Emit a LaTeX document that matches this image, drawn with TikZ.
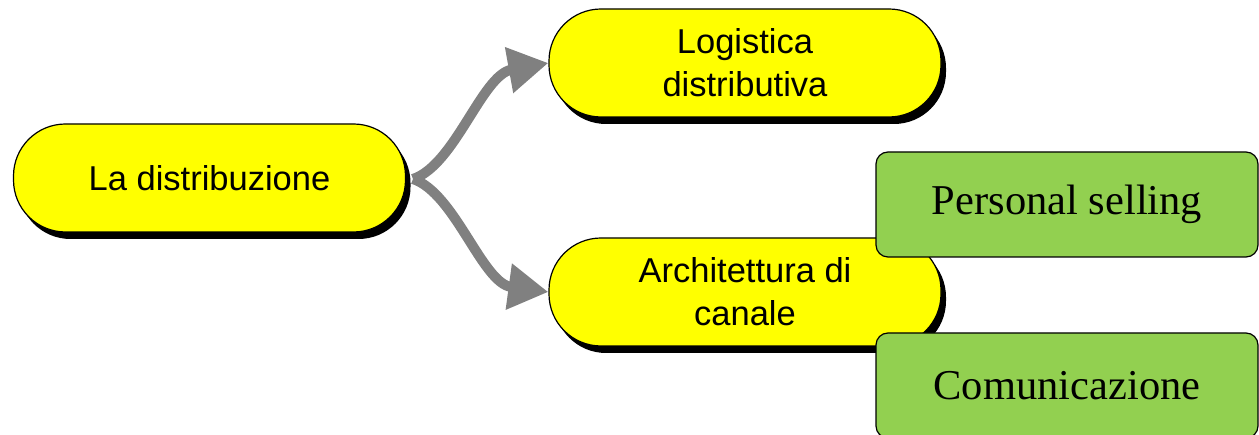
\documentclass[tikz,border=0pt]{standalone}
\usepackage{fontspec}
\setmainfont{Liberation Serif}
\newfontfamily\arialfont{Liberation Sans}
\usetikzlibrary{shadows,arrows.meta}
\definecolor{nodeyellow}{RGB}{255,255,0}
\definecolor{nodegreen}{RGB}{146,208,80}
\definecolor{arrowgray}{RGB}{128,128,128}
\tikzset{
  pill/.style={draw=black, line width=1.2pt, fill=nodeyellow, rounded corners=52pt,
    minimum height=108pt, minimum width=392pt, inner sep=0pt, align=center,
    font=\arialfont\fontsize{34.5}{43}\selectfont,
    drop shadow={shadow xshift=5pt, shadow yshift=-7pt, fill=black, opacity=1}},
  greenbox/.style={draw=black, line width=1.2pt, fill=nodegreen, rounded corners=12pt,
    minimum height=105pt, minimum width=382pt, inner sep=0pt,
    font=\fontsize{42.5}{50}\selectfont},
  conn/.style={draw=arrowgray, line width=10pt, -{Triangle[length=40pt,width=44pt]}}
}
\begin{document}
\begin{tikzpicture}[x=1pt,y=-1pt]
\useasboundingbox (0,0) rectangle (1259,435);
\node[pill] (ld) at (209.5,178) {La distribuzione};
\node[pill] (lg) at (745,63) {Logistica\\distributiva};
\node[pill] (ac) at (745,292) {Architettura di\\canale};
\coordinate (src) at (413,179);
\draw[conn] (src) .. controls (455,165) and (482,75) .. (lg.west);
\draw[conn] (src) .. controls (455,193) and (482,283) .. (ac.west);
\node[greenbox] (ps) at (1067,204.5) {Personal selling};
\node[greenbox] (cm) at (1067,385.5) {Comunicazione};
\end{tikzpicture}
\end{document}
